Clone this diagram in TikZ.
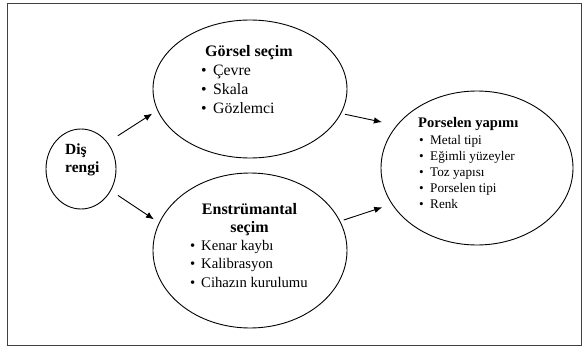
\documentclass[tikz,border=0pt]{standalone}
\usepackage{fontspec}
\setmainfont{Liberation Serif}[Ligatures=TeX]
\newfontfamily\tnr{Liberation Serif}
\usetikzlibrary{shapes.geometric,arrows.meta}
\begin{document}
\begin{tikzpicture}[x=1pt,y=-1pt,
  ell/.style={draw=black, line width=0.9pt, shape=ellipse, inner sep=0pt},
  txt/.style={inner sep=0pt, anchor=base west},
  ctxt/.style={inner sep=0pt, anchor=base},
  arr/.style={draw=black, line width=0.9pt, -{Latex[length=8pt,width=6.5pt]}},
  frm/.style={draw=black!75, line width=1.1pt}]
\useasboundingbox (0,0) rectangle (584,348);
\node[frm, inner sep=0pt, minimum width=574.5pt, minimum height=341.5pt, anchor=north west] (frame) at (6.5,3) {};
% ellipses
\node[ell, minimum width=70pt, minimum height=80pt] (dis) at (81,169) {};
\node[ell, minimum width=194pt, minimum height=138pt] (gorsel) at (250,89) {};
\node[ell, minimum width=194pt, minimum height=155pt] (enst) at (250,250.5) {};
\node[ell, minimum width=192pt, minimum height=154pt] (pors) at (477,168) {};
% Diş rengi
\node[txt, font=\tnr\fontsize{15.5}{18}\selectfont\bfseries] (d1) at (65,154.5) {Diş};
\node[txt, font=\tnr\fontsize{15.5}{18}\selectfont\bfseries] (d2) at (65,172.5) {rengi};
% Görsel seçim
\node[ctxt, font=\tnr\fontsize{16}{19}\selectfont\bfseries] (g0) at (249,56.5) {Görsel seçim};
\node[txt, font=\tnr\fontsize{15.8}{19}\selectfont] (g1) at (213,75.5) {\llap{\textbullet\hspace{6.5pt}}Çevre};
\node[txt, font=\tnr\fontsize{15.8}{19}\selectfont] (g2) at (213,94.5) {\llap{\textbullet\hspace{6.5pt}}Skala};
\node[txt, font=\tnr\fontsize{15.8}{19}\selectfont] (g3) at (213,113.5) {\llap{\textbullet\hspace{6.5pt}}Gözlemci};
% Enstrümantal seçim
\node[ctxt, font=\tnr\fontsize{16}{19}\selectfont\bfseries] (e0) at (249.5,214) {Enstrümantal};
\node[ctxt, font=\tnr\fontsize{16}{19}\selectfont\bfseries] (e1) at (249.5,232) {seçim};
\node[txt, font=\tnr\fontsize{14.7}{18}\selectfont] (e2) at (201,250.5) {\llap{\textbullet\hspace{6pt}}Kenar kaybı};
\node[txt, font=\tnr\fontsize{14.7}{18}\selectfont] (e3) at (201,268.5) {\llap{\textbullet\hspace{6pt}}Kalibrasyon};
\node[txt, font=\tnr\fontsize{14.7}{18}\selectfont] (e4) at (201,287) {\llap{\textbullet\hspace{6pt}}Cihazın kurulumu};
% Porselen yapımı
\node[txt, font=\tnr\fontsize{14.6}{17}\selectfont\bfseries] (p0) at (418,127.5) {Porselen yapımı};
\node[txt, font=\tnr\fontsize{13.2}{16}\selectfont] (p1) at (430,144.5) {\llap{\textbullet\hspace{6.5pt}}Metal tipi};
\node[txt, font=\tnr\fontsize{13.2}{16}\selectfont] (p2) at (430,160.5) {\llap{\textbullet\hspace{6.5pt}}Eğimli yüzeyler};
\node[txt, font=\tnr\fontsize{13.2}{16}\selectfont] (p3) at (430,176.5) {\llap{\textbullet\hspace{6.5pt}}Toz yapısı};
\node[txt, font=\tnr\fontsize{13.2}{16}\selectfont] (p4) at (430,192.5) {\llap{\textbullet\hspace{6.5pt}}Porselen tipi};
\node[txt, font=\tnr\fontsize{13.2}{16}\selectfont] (p5) at (430,208.5) {\llap{\textbullet\hspace{6.5pt}}Renk};
% arrows
\draw[arr, shorten <=12pt, shorten >=6pt] (dis.45) -- (gorsel.193.8);
\draw[arr, shorten <=8.5pt, shorten >=6pt] (dis.324) -- (enst.163);
\draw[arr, shorten <=3.7pt, shorten >=15pt] (gorsel.345.9) -- (pors.152);
\draw[arr, shorten <=3.6pt, shorten >=10pt] (enst.18) -- (pors.203);
\end{tikzpicture}
\end{document}
